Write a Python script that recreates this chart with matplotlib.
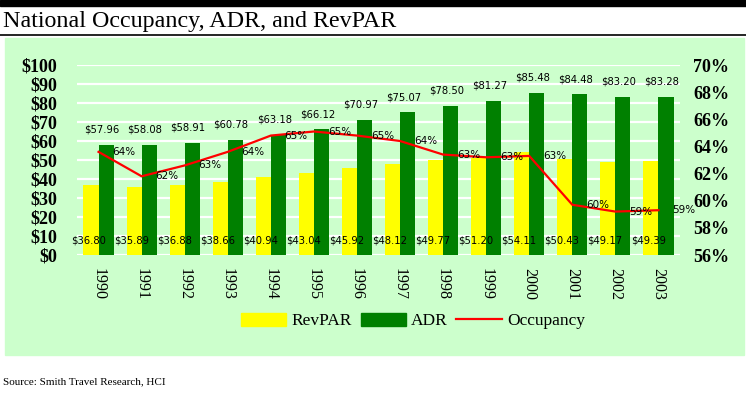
import matplotlib.pyplot as plt
import numpy as np
from matplotlib.patches import Rectangle, Patch
from matplotlib.lines import Line2D

# data
years = ["1990", "1991", "1992", "1993", "1994", "1995", "1996",
         "1997", "1998", "1999", "2000", "2001", "2002", "2003"]
revpar = [36.80, 35.89, 36.88, 38.66, 40.94, 43.04, 45.92,
          48.12, 49.77, 51.20, 54.11, 50.43, 49.17, 49.39]
adr = [57.96, 58.08, 58.91, 60.78, 63.18, 66.12, 70.97,
       75.07, 78.50, 81.27, 85.48, 84.48, 83.20, 83.28]
occupancy = [63.6, 61.8, 62.6, 63.6, 64.8, 65.1, 64.8,
             64.4, 63.4, 63.2, 63.3, 59.7, 59.2, 59.3]

W, H = 746, 396
serif = ["Liberation Serif", "DejaVu Serif"]
small = ["DejaVu Sans"]

fig = plt.figure(figsize=(W / 100, H / 100), dpi=100)

# background panel, top bar, title rule
fig.patches.append(Rectangle((5 / W, 1 - 355 / H), 739 / W, 317 / H,
                             transform=fig.transFigure, color="#ccffcc", zorder=-2))
fig.patches.append(Rectangle((0, 1 - 6 / H), 1, 6 / H,
                             transform=fig.transFigure, color="black", zorder=-2))
fig.add_artist(Line2D([0, 1], [1 - 35 / H, 1 - 35 / H], transform=fig.transFigure,
                      color="black", lw=1.2, zorder=-2))

fig.text(3 / W, 1 - 21 / H, "National Occupancy, ADR, and RevPAR",
         fontsize=17.3, family=serif, va="center", ha="left")
fig.text(3 / W, 1 - 382 / H, "Source: Smith Travel Research, HCI",
         fontsize=8, family=serif, va="center", ha="left")

ax = fig.add_axes([77 / W, 1 - 255 / H, 603 / W, 190 / H])
ax.set_facecolor("none")
x = np.arange(len(years))
w = 0.35

ax.bar(x - w / 2, revpar, w, color="#ffff00", zorder=2)
ax.bar(x + w / 2, adr, w, color="#008000", zorder=2)

ax.set_ylim(0, 100)
ax.set_xlim(-0.5, len(years) - 0.5)
ax.set_yticks(np.arange(0, 101, 10))
ax.set_yticklabels([f"${v}" for v in range(0, 101, 10)],
                   fontsize=13, family=serif, fontweight="bold")
ax.set_xticks(x)
ax.set_xticklabels(years, rotation=-90, fontsize=11.5, family=serif)
ax.tick_params(axis="both", length=0)
ax.tick_params(axis="x", pad=9)
ax.tick_params(axis="y", pad=14)
ax.yaxis.grid(True, color="white", lw=1.6)
ax.set_axisbelow(True)
for s in ax.spines.values():
    s.set_visible(False)

for i in range(len(years)):
    ax.annotate(f"${revpar[i]:.2f}", (x[i] - w / 2, 7.5), xytext=(-2, 0),
                textcoords="offset points", ha="center", va="center",
                fontsize=7.2, family=small, zorder=5)
    ax.annotate(f"${adr[i]:.2f}", (x[i] + w / 2, adr[i]), xytext=(-3, 11),
                textcoords="offset points", ha="center", va="center",
                fontsize=7.2, family=small, zorder=5)

ax2 = ax.twinx()
ax2.plot(x, occupancy, color="#ff0000", lw=1.6, zorder=3)
ax2.set_ylim(56, 70)
ax2.set_yticks(np.arange(56, 71, 2))
ax2.set_yticklabels([f"{v}%" for v in range(56, 71, 2)],
                    fontsize=13, family=serif, fontweight="bold")
ax2.tick_params(axis="y", length=0, pad=9.5)
for s in ax2.spines.values():
    s.set_visible(False)
for i in range(len(years)):
    ax2.annotate(f"{occupancy[i]:.0f}%", (x[i], occupancy[i]), xytext=(10, 0),
                 textcoords="offset points", ha="left", va="center",
                 fontsize=7.5, family=small, zorder=5)

handles = [Patch(color="#ffff00"), Patch(color="#008000"),
           Line2D([], [], color="#ff0000", lw=1.6)]
fig.legend(handles, ["RevPAR", "ADR", "Occupancy"], loc="center",
           bbox_to_anchor=(413 / W, 1 - 321 / H), ncol=3, frameon=False,
           prop={"family": serif, "size": 12.5}, handlelength=2.6,
           handleheight=0.8, handletextpad=0.3, columnspacing=0.5)

fig.savefig("out.png", dpi=100)
